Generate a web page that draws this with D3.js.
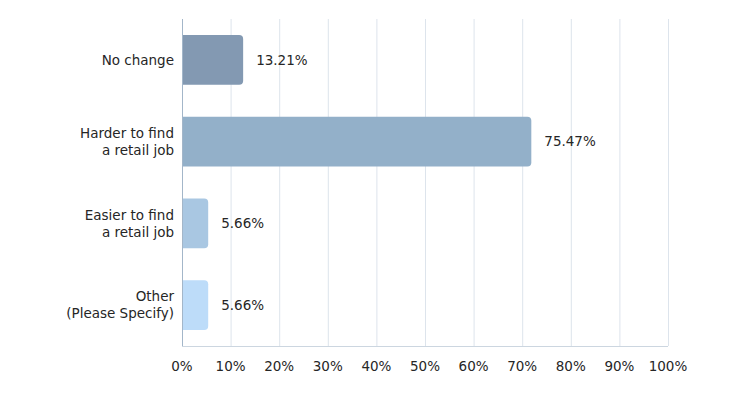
<!DOCTYPE html>
<html>
<head>
<meta charset="utf-8">
<script src="https://cdn.jsdelivr.net/npm/d3@7/dist/d3.min.js"></script>
<style>
  body { margin: 0; background: #fff; }
  text { font-family: "DejaVu Sans", sans-serif; fill: #262626; }
</style>
</head>
<body>
<script>
const categories = [["No change"], ["Harder to find", "a retail job"], ["Easier to find", "a retail job"], ["Other", "(Please Specify)"]];
const values = [13.21, 75.47, 5.66, 5.66];
const colors = ["#8399b2", "#93b0c9", "#a9c7e2", "#bddcf9"];
const ticks = [0, 10, 20, 30, 40, 50, 60, 70, 80, 90, 100];

const width = 750, height = 394;
const plotLeft = 182, plotRight = 668, plotTop = 19, plotBottom = 346;

const svg = d3.select("body").append("svg")
  .attr("width", width)
  .attr("height", height);

const x = d3.scaleLinear().domain([0, 100]).range([plotLeft, plotRight]);
// the bars in the original come out a little short of their ticks
const xBar = d3.scaleLinear().domain([0, 105]).range([plotLeft, plotRight]);
const y = d3.scaleBand()
  .domain(d3.range(categories.length))
  .range([plotTop, plotBottom])
  .paddingInner(0.39)
  .paddingOuter(0.195);

// grid
svg.append("g")
  .selectAll("line")
  .data(ticks.slice(1))
  .join("line")
  .attr("x1", d => x(d) + 0.5)
  .attr("x2", d => x(d) + 0.5)
  .attr("y1", plotTop)
  .attr("y2", plotBottom)
  .attr("stroke", "#dde4ec")
  .attr("stroke-width", 1);

svg.append("line")
  .attr("x1", plotLeft).attr("x2", plotRight)
  .attr("y1", plotBottom + 0.5).attr("y2", plotBottom + 0.5)
  .attr("stroke", "#ccd6e0");

// bars
svg.append("g")
  .selectAll("path")
  .data(values)
  .join("path")
  .attr("fill", (d, i) => colors[i])
  .attr("d", (d, i) => {
    const x0 = x(0), x1 = xBar(d), y0 = y(i), h = y.bandwidth(), r = 4;
    return `M${x0},${y0}H${x1 - r}Q${x1},${y0} ${x1},${y0 + r}V${y0 + h - r}Q${x1},${y0 + h} ${x1 - r},${y0 + h}H${x0}Z`;
  });

svg.append("line")
  .attr("x1", plotLeft + 0.5).attr("x2", plotLeft + 0.5)
  .attr("y1", plotTop).attr("y2", plotBottom)
  .attr("stroke", "#a3b6c9");

// value labels
svg.append("g")
  .selectAll("text")
  .data(values)
  .join("text")
  .attr("x", d => xBar(d) + 13)
  .attr("y", (d, i) => y(i) + y.bandwidth() / 2)
  .attr("dy", "0.35em")
  .attr("font-size", 13.5)
  .text(d => d.toFixed(2) + "%");

// category labels, one text per line
const lines = categories.flatMap((c, i) =>
  c.map((t, j) => ({ t, i, off: (j - (c.length - 1) / 2) * 17 })));
svg.append("g")
  .selectAll("text")
  .data(lines)
  .join("text")
  .attr("text-anchor", "end")
  .attr("font-size", 13.5)
  .attr("x", 174)
  .attr("y", d => y(d.i) + y.bandwidth() / 2 + d.off)
  .attr("dy", "0.35em")
  .text(d => d.t);

// x axis labels
svg.append("g")
  .selectAll("text")
  .data(ticks)
  .join("text")
  .attr("x", d => x(d))
  .attr("y", 366)
  .attr("dy", "0.35em")
  .attr("text-anchor", "middle")
  .attr("font-size", 13.5)
  .text(d => d + "%");
</script>
</body>
</html>
